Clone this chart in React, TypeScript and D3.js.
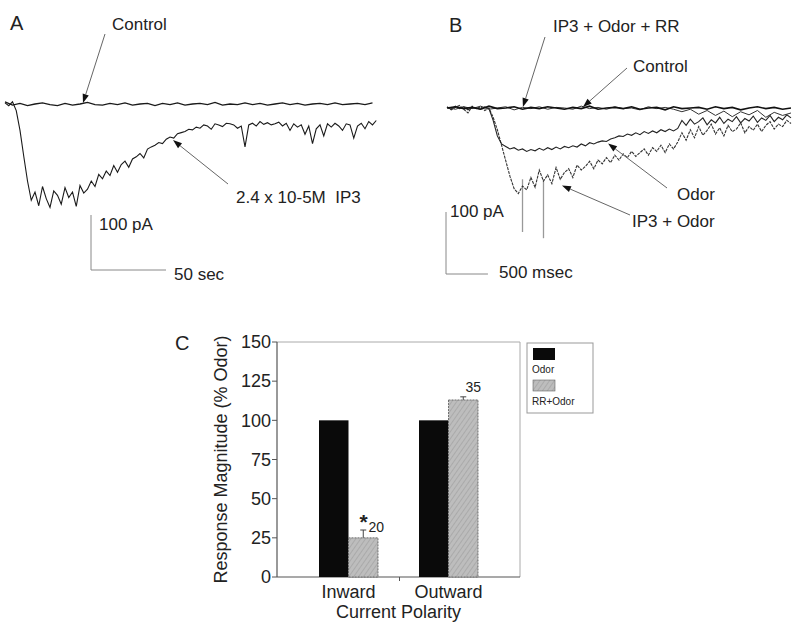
import * as d3 from "d3";

// ---- Panel A: whole-cell current (pA), control sampled every 5 s, IP3 every 2.5 s
const A_CONTROL = [4, -2, 1, -3, 0, 2, -1, -3, 1, -2, 0, 3, -1, -2, 1, -1, 2, -2, 0, 1, -3, 1, -1, 2, -2, 0, 1, -1, 3, -2, 0, -1, 2, -1, 1, -2, 0, 2, -1, 1, -2, 0, 1, -1, 2, -1, 0, 1, -1, 2];
const A_IP3 = [
  2, -3, 4, -12, -48, -95, -140, -175, -160, -185, -150, -172, -188, -158, -166, -182, -152, -170, -160, -186,
  -148, -162, -155, -140, -150, -128, -136, -122, -130, -112, -124, -110, -104, -115, -100, -96, -90, -98, -82, -78,
  -75, -70, -72, -64, -60, -62, -54, -52, -50, -46, -47, -42, -44, -38, -40, -46, -36, -38, -41, -35,
  -36, -38, -44, -40, -78, -38, -35, -40, -32, -37, -34, -38, -36, -33, -40, -35, -48, -36, -42, -38,
  -55, -40, -72, -45, -38, -58, -36, -42, -35, -40, -48, -36, -38, -62, -40, -35, -45, -32, -38, -30,
];

// ---- Panel B: control & RR every 100 ms, odor traces every 50 ms
const B_CONTROL = [0, 2, -1, 1, -2, 3, -1, 0, 2, -2, 1, -1, 2, 0, -2, 1, -1, 3, -2, 0, 1, -1, 2, -2, 0, 1, -3, 2, -1, 0, 1, -2, 2, -1, 1, -3, 0, 2, -1, 1, -2, 0];
const B_RR = [1, -2, 2, -1, 3, -2, 0, 2, -3, 1, -1, 2, -2, 1, 0, -2, 3, -1, 1, -2, 2, -1, 0, -3, 2, -1, 1, -2, -6, -2, -10, -4, -12, -5, -14, -6, -11, -4, -15, -7, -12, -8];
const B_ODOR = [
  1, -2, 3, -1, 2, -3, 1, 0, -2, 2, -1,
  -20, -45, -58, -62, -66, -64, -68, -66, -70, -67, -69, -65, -68, -64, -67, -63, -66, -62, -64, -61, -63, -58, -61, -56, -58, -55, -53, -54, -50,
  -48, -45, -46, -42, -44, -40, -43, -38, -41, -37, -40, -35, -38, -34, -37, -33,
  -20, -28, -18, -26, -22, -16, -27, -19, -24, -15, -25, -18, -22, -14, -24, -17, -21, -13, -23, -16, -20, -12, -22, -15, -19, -11, -16,
];
const B_IP3_ODOR = [
  2, -3, 1, 4, -2, -8, 3, -1, 2, -4, 0,
  -15, -35, -60, -85, -110, -130, -138, -126, -132, -112,
  -128, -100, -118, -108, -122, -96, -115, -104, -98, -112,
  -92, -100, -94, -86, -98, -84, -90, -80, -88, -76,
  -84, -74, -80, -70, -78, -72, -66, -76, -64, -70,
  -60, -72, -58, -66, -55, -40, -52, -35, -48, -30,
  -44, -36, -26, -42, -32, -45, -28, -38, -34, -24,
  -40, -30, -36, -26, -38, -28, -22, -34, -26, -30,
  -20, -25,
];
const B_SPIKE_TIMES = [900, 1150];
const B_SPIKE_VALUES = [-200, -210];

// ---- Panel C
const C_CATEGORIES = ["Inward", "Outward"];
const C_SERIES = ["Odor", "RR+Odor"];
const C_ODOR = [100, 100];
const C_RR_ODOR = [25, 113];
const C_RR_ERR = [5, 2];
const C_N_LABELS = ["20", "35"];
const C_Y_TICKS = [0, 25, 50, 75, 100, 125, 150];

const FONT = "Liberation Sans, Arial, Helvetica, sans-serif";

function Arrow({ x1, y1, x2, y2 }: { x1: number; y1: number; x2: number; y2: number }) {
  const a = Math.atan2(y2 - y1, x2 - x1);
  const L = 9, W = 3.2;
  const bx = x2 - L * Math.cos(a), by = y2 - L * Math.sin(a);
  const px = -Math.sin(a) * W, py = Math.cos(a) * W;
  return (
    <g>
      <line x1={x1} y1={y1} x2={bx} y2={by} stroke="#666" strokeWidth={1} />
      <polygon points={`${x2},${y2} ${bx + px},${by + py} ${bx - px},${by - py}`} fill="#111" />
    </g>
  );
}

export default function App() {
  // panel A scales
  const xA = d3.scaleLinear().domain([0, 250]).range([5, 380]);
  const yA = d3.scaleLinear().domain([0, -100]).range([104, 159]);
  const lineA = (step: number) =>
    d3.line<number>().x((_, i) => xA(i * step)).y((d) => yA(d));

  // panel B scales
  const xB = d3.scaleLinear().domain([0, 4100]).range([447, 791]);
  const yB = d3.scaleLinear().domain([0, -100]).range([108, 170]);
  const lineB = (step: number) =>
    d3.line<number>().x((_, i) => xB(i * step)).y((d) => yB(d));

  // panel C scales
  const cLeft = 277, cRight = 520, cTop = 342, cBottom = 577;
  const yC = d3.scaleLinear().domain([0, 150]).range([cBottom, cTop]);
  const xC = d3.scalePoint<string>().domain(C_CATEGORIES).range([cLeft, cRight]).padding(0.715);
  const barW = 29.5;

  const txt = { fontFamily: FONT, fill: "#222" } as const;

  return (
    <svg width={800} height={633} style={{ position: "absolute", left: 0, top: 0, background: "#fff" }}>
      <defs>
        <pattern id="grain" width="4" height="4" patternUnits="userSpaceOnUse" patternTransform="rotate(35)">
          <rect width="4" height="4" fill="#bdbdbd" />
          <line x1="0" y1="0" x2="0" y2="4" stroke="#a2a2a2" strokeWidth="1.4" />
        </pattern>
      </defs>

      {/* ---------------- Panel A ---------------- */}
      <text x={10} y={30} fontSize={20} {...txt}>A</text>
      <path d={lineA(5)(A_CONTROL) ?? ""} fill="none" stroke="#1a1a1a" strokeWidth={1.3} />
      <path d={lineA(2.5)(A_IP3) ?? ""} fill="none" stroke="#1a1a1a" strokeWidth={1.1} />
      <Arrow x1={105} y1={34} x2={xA(52)} y2={yA(0) - 1} />
      <text x={112} y={30} fontSize={17} {...txt}>Control</text>
      <Arrow x1={228} y1={184} x2={xA(112)} y2={yA(-62) + 2} />
      <text x={236} y={203} fontSize={17} {...txt} style={{ whiteSpace: "pre" }}>2.4 x 10-5M  IP3</text>
      <path d={`M${91},${215}V${215 + (yA(-100) - yA(0))}H${91 + (xA(50) - xA(0))}`} fill="none" stroke="#888" strokeWidth={1} />
      <text x={99} y={230} fontSize={17} {...txt}>100 pA</text>
      <text x={174} y={280} fontSize={17} {...txt}>50 sec</text>

      {/* ---------------- Panel B ---------------- */}
      <text x={449} y={32} fontSize={20} {...txt}>B</text>
      {B_SPIKE_TIMES.map((t, i) => (
        <line key={i} x1={xB(t)} x2={xB(t)} y1={yB(-115)} y2={yB(B_SPIKE_VALUES[i])} stroke="#999" strokeWidth={1.3} />
      ))}
      <path d={lineB(50)(B_IP3_ODOR) ?? ""} fill="none" stroke="#333" strokeWidth={1.1} strokeDasharray="3,1" />
      <path d={lineB(50)(B_ODOR) ?? ""} fill="none" stroke="#222" strokeWidth={1.1} />
      <path d={lineB(100)(B_RR) ?? ""} fill="none" stroke="#333" strokeWidth={1} />
      <path d={lineB(100)(B_CONTROL) ?? ""} fill="none" stroke="#111" strokeWidth={1.6} />
      <Arrow x1={545} y1={37} x2={xB(905)} y2={yB(0) - 1} />
      <text x={553} y={32} fontSize={17} {...txt}>IP3 + Odor + RR</text>
      <Arrow x1={627} y1={68} x2={xB(1620)} y2={yB(0) - 1} />
      <text x={633} y={72} fontSize={17} {...txt}>Control</text>
      <Arrow x1={667} y1={188} x2={xB(1920)} y2={yB(-54) + 2} />
      <text x={677} y={200} fontSize={17} {...txt}>Odor</text>
      <Arrow x1={630} y1={215} x2={xB(1370)} y2={yB(-125)} />
      <text x={632} y={227} fontSize={17} {...txt}>IP3 + Odor</text>
      <path d={`M${446},${212}V${212 + (yB(-100) - yB(0))}H${446 + (xB(500) - xB(0))}`} fill="none" stroke="#888" strokeWidth={1} />
      <text x={450} y={217} fontSize={17} {...txt}>100 pA</text>
      <text x={499} y={278} fontSize={17} {...txt}>500 msec</text>

      {/* ---------------- Panel C ---------------- */}
      <text x={175} y={350} fontSize={20} {...txt}>C</text>
      <path d={`M${cLeft},${cTop}H${cRight}V${cBottom}`} fill="none" stroke="#aaa" strokeWidth={1} />
      <line x1={cLeft} x2={cLeft} y1={cTop} y2={cBottom} stroke="#555" strokeWidth={1.2} />
      <line x1={cLeft} x2={cRight} y1={cBottom} y2={cBottom} stroke="#555" strokeWidth={1.2} />
      {C_Y_TICKS.map((t) => (
        <g key={t}>
          <line x1={cLeft - 5} x2={cLeft} y1={yC(t)} y2={yC(t)} stroke="#555" />
          <text x={cLeft - 6} y={yC(t)} dy="0.35em" textAnchor="end" fontSize={18} {...txt}>{t}</text>
        </g>
      ))}
      <line x1={(cLeft + cRight) / 2 + 1} x2={(cLeft + cRight) / 2 + 1} y1={cBottom} y2={cBottom + 4} stroke="#555" />
      <text transform={`translate(221,${(cTop + cBottom) / 2}) rotate(-90)`} textAnchor="middle" dy="0.35em" fontSize={18} {...txt}>
        Response Magnitude (% Odor)
      </text>

      {C_CATEGORIES.map((c, i) => {
        const cx = xC(c) ?? 0;
        return (
          <g key={c}>
            <rect x={cx - barW} y={yC(C_ODOR[i])} width={barW} height={yC(0) - yC(C_ODOR[i])} fill="#0a0a0a" />
            <rect x={cx} y={yC(C_RR_ODOR[i])} width={barW} height={yC(0) - yC(C_RR_ODOR[i])} fill="url(#grain)" stroke="#555" strokeWidth={0.8} strokeDasharray="2,1" />
            <line x1={cx + barW / 2} x2={cx + barW / 2} y1={yC(C_RR_ODOR[i])} y2={yC(C_RR_ODOR[i] + C_RR_ERR[i])} stroke="#444" />
            <line x1={cx + barW / 2 - 3} x2={cx + barW / 2 + 3} y1={yC(C_RR_ODOR[i] + C_RR_ERR[i])} y2={yC(C_RR_ODOR[i] + C_RR_ERR[i])} stroke="#444" />
            <text x={cx} y={598} textAnchor="middle" fontSize={18} {...txt}>{c}</text>
          </g>
        );
      })}
      <text x={(xC("Inward") ?? 0) + 11} y={529} fontSize={21} fontWeight="bold" {...txt}>*</text>
      <text x={(xC("Inward") ?? 0) + 20} y={532} fontSize={14} {...txt}>{C_N_LABELS[0]}</text>
      <text x={(xC("Outward") ?? 0) + 17} y={392} fontSize={14} {...txt}>{C_N_LABELS[1]}</text>
      <text x={(cLeft + cRight) / 2} y={618} textAnchor="middle" fontSize={18} {...txt}>Current Polarity</text>

      {/* legend */}
      <rect x={527} y={343} width={66} height={70} fill="#fff" stroke="#999" />
      <rect x={533} y={348} width={22} height={12} fill="#0a0a0a" />
      <text x={532} y={373} fontSize={10} {...txt}>{C_SERIES[0]}</text>
      <rect x={533} y={380} width={22} height={11} fill="url(#grain)" stroke="#666" strokeWidth={0.6} />
      <text x={532} y={405} fontSize={10} {...txt}>{C_SERIES[1]}</text>
    </svg>
  );
}
